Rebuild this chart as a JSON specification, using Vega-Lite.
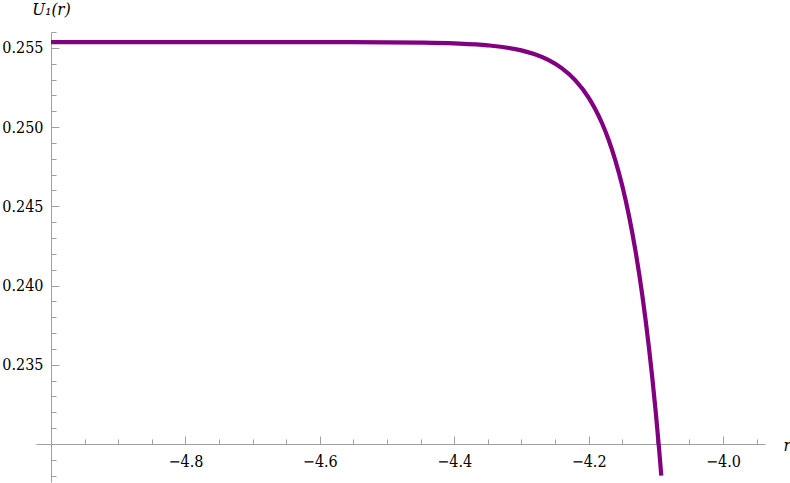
{
  "$schema": "https://vega.github.io/schema/vega-lite/v6.json",
  "width": 729,
  "height": 450,
  "autosize": {"type": "none"},
  "padding": {"left": 36, "top": 32, "right": 25, "bottom": 1},
  "background": "white",
  "config": {
    "font": "DejaVu Serif Condensed, DejaVu Serif",
    "view": {"stroke": null},
    "axis": {
      "domainColor": "#a0a0a0",
      "tickColor": "#a0a0a0",
      "domainWidth": 1,
      "tickWidth": 1,
      "grid": false,
      "labelFont": "DejaVu Serif Condensed, DejaVu Serif",
      "labelFontSize": 16,
      "labelColor": "#000000",
      "titleFont": "DejaVu Serif Condensed, DejaVu Serif",
      "titleFontSize": 17,
      "titleFontWeight": "normal",
      "titleFontStyle": "italic",
      "titleColor": "#000000",
      "labelFlush": false,
      "labelOverlap": false,
      "labelBound": false
    }
  },
  "data": {
    "values": [
      {"r": -5.0, "u": 0.25536},
      {"r": -4.9, "u": 0.25536},
      {"r": -4.8, "u": 0.25536},
      {"r": -4.7, "u": 0.25536},
      {"r": -4.6, "u": 0.25536},
      {"r": -4.5, "u": 0.25535},
      {"r": -4.45, "u": 0.25533},
      {"r": -4.4, "u": 0.25528},
      {"r": -4.35, "u": 0.25516},
      {"r": -4.3, "u": 0.25484},
      {"r": -4.28, "u": 0.25459},
      {"r": -4.26, "u": 0.25424},
      {"r": -4.24, "u": 0.25372},
      {"r": -4.22, "u": 0.25296},
      {"r": -4.2, "u": 0.25186},
      {"r": -4.19, "u": 0.25112},
      {"r": -4.18, "u": 0.25024},
      {"r": -4.17, "u": 0.24917},
      {"r": -4.16, "u": 0.24787},
      {"r": -4.15, "u": 0.24631},
      {"r": -4.14, "u": 0.24442},
      {"r": -4.13, "u": 0.24213},
      {"r": -4.12, "u": 0.23936},
      {"r": -4.11, "u": 0.23601},
      {"r": -4.105, "u": 0.23409},
      {"r": -4.1, "u": 0.23197},
      {"r": -4.095, "u": 0.22963},
      {"r": -4.0918, "u": 0.2280}
    ]
  },
  "layer": [
    {
      "mark": {"type": "line", "strokeOpacity": 0},
      "encoding": {
        "x": {
          "field": "r", "type": "quantitative",
          "scale": {"domain": [-5.0223, -3.9375], "nice": false, "zero": false},
          "axis": {
            "orient": "bottom", "offset": -38, "domain": false, "labels": false, "title": null,
            "tickSize": -5,
            "values": [-4.95, -4.9, -4.85, -4.75, -4.7, -4.65, -4.55, -4.5, -4.45, -4.35, -4.3, -4.25, -4.15, -4.1, -4.05, -3.95]
          }
        },
        "y": {
          "field": "u", "type": "quantitative",
          "scale": {"domain": [0.2276, 0.256], "nice": false, "zero": false},
          "axis": {
            "orient": "left", "offset": -15, "domain": false, "labels": false, "title": null,
            "tickSize": -5,
            "values": [0.228, 0.229, 0.231, 0.232, 0.233, 0.234, 0.236, 0.237, 0.238, 0.239, 0.241, 0.242, 0.243, 0.244, 0.246, 0.247, 0.248, 0.249, 0.251, 0.252, 0.253, 0.254, 0.256]
          }
        }
      }
    },
    {
      "mark": {"type": "line", "color": "#800080", "strokeWidth": 4.2, "interpolate": "monotone"},
      "encoding": {
        "x": {
          "field": "r", "type": "quantitative",
          "scale": {"domain": [-5.0223, -3.9375], "nice": false, "zero": false},
          "axis": {
            "orient": "bottom", "offset": -38,
            "values": [-4.8, -4.6, -4.4, -4.2, -4.0],
            "format": ".1f",
            "tickSize": -8,
            "labelPadding": 17,
            "title": "r",
            "titleX": 747, "titleY": 6,
            "titleAlign": "left", "titleBaseline": "alphabetic", "titleAngle": 0
          }
        },
        "y": {
          "field": "u", "type": "quantitative",
          "scale": {"domain": [0.2276, 0.256], "nice": false, "zero": false},
          "axis": {
            "orient": "left", "offset": -15,
            "values": [0.235, 0.24, 0.245, 0.25, 0.255],
            "format": ".3f",
            "tickSize": -8,
            "labelPadding": 16,
            "title": "U₁(r)",
            "titleX": 0, "titleY": -18,
            "titleAlign": "center", "titleBaseline": "alphabetic", "titleAngle": 0
          }
        }
      }
    }
  ],
  "resolve": {"axis": {"x": "independent", "y": "independent"}}
}
